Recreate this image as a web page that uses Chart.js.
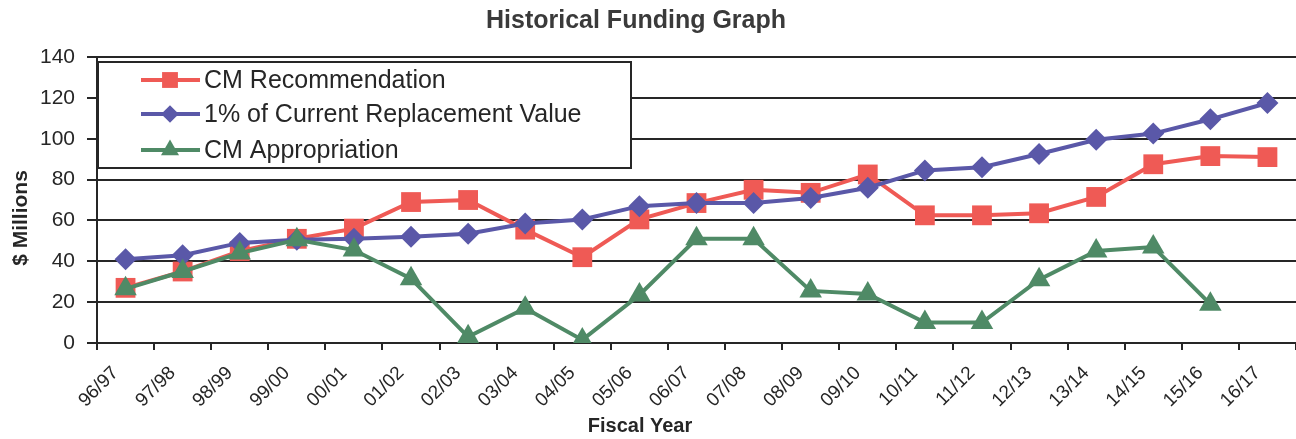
<!DOCTYPE html>
<html>
<head>
<meta charset="utf-8">
<script src="https://cdn.jsdelivr.net/npm/chart.js@4.4.1/dist/chart.umd.min.js"></script>
<style>
  html, body { margin: 0; padding: 0; background: #fff; }
  #wrap { width: 1296px; height: 439px; }
</style>
</head>
<body>
<div id="wrap"><canvas id="funding-chart"></canvas></div>
<script>
// --- data ($ millions) ---
const fiscalYears = ["96/97", "97/98", "98/99", "99/00", "00/01", "01/02", "02/03", "03/04", "04/05", "05/06",
  "06/07", "07/08", "08/09", "09/10", "10/11", "11/12", "12/13", "13/14", "14/15", "15/16", "16/17"];
const cmRecommendation = [27, 35, 45, 51, 56, 69, 70, 55.5, 42, 60.5, 68.5, 75, 73.5, 82.5, 62.5, 62.5, 63.5, 71.5, 87.5, 91.5, 91];
const replacementValue = [41, 43, 49, 50.5, 51, 52, 53.5, 58.5, 60.5, 67, 68.5, 68.5, 71, 76, 84.5, 86, 92.5, 99.5, 102.5, 109.5, 117.5];
const cmAppropriation = [26.5, 35, 44, 50.5, 45.5, 31.5, 3, 17, 1.5, 23.5, 51, 51, 25.5, 24, 10, 10, 31, 45, 47, 19, null];
const yTicks = [0, 20, 40, 60, 80, 100, 120, 140];

const RED = "#ef5a55";
const BLUE = "#5a58a8";
const GREEN = "#4f8a66";
const INK = "#262626";
const FONT = "'Liberation Sans', Arial, sans-serif";

Chart.defaults.font.family = FONT;
Chart.defaults.color = INK;

// title, axis titles and the legend box inside the plot, placed like the Excel original
const excelExtras = {
  id: "excelExtras",
  afterDraw(chart) {
    const { ctx, chartArea } = chart;
    ctx.save();

    ctx.textAlign = "center";
    ctx.textBaseline = "middle";
    ctx.fillStyle = "#3a3a3a";
    ctx.font = "bold 25px " + FONT;
    ctx.fillText("Historical Funding Graph", 636, 21);

    ctx.fillStyle = INK;
    ctx.font = "bold 20px " + FONT;
    ctx.fillText("Fiscal Year", 640, 426);
    ctx.save();
    ctx.translate(21, 218);
    ctx.rotate(-Math.PI / 2);
    ctx.font = "bold 21px " + FONT;
    ctx.fillText("$ Millions", 0, 0);
    ctx.restore();

    const left = chartArea.left + 1, top = chartArea.top + 5;
    const w = 533, h = 106;
    ctx.fillStyle = "#fff";
    ctx.fillRect(left, top, w, h);
    ctx.strokeStyle = INK;
    ctx.lineWidth = 2;
    ctx.strokeRect(left, top, w, h);

    const rows = [18, 52, 88];
    ctx.font = "25px " + FONT;
    ctx.textAlign = "left";
    chart.data.datasets.forEach((ds, i) => {
      const y = top + rows[i];
      ctx.strokeStyle = ds.borderColor;
      ctx.lineWidth = 4;
      ctx.beginPath();
      ctx.moveTo(left + 43, y);
      ctx.lineTo(left + 102, y);
      ctx.stroke();
      ctx.fillStyle = ds.borderColor;
      Chart.helpers.drawPoint(ctx, { pointStyle: ds.pointStyle, radius: ds.pointRadius * 0.8, rotation: 0, borderWidth: 0 }, left + 72, y);
      ctx.fillStyle = INK;
      ctx.fillText(ds.label, left + 106, y + 1);
    });
    ctx.restore();
  }
};

const ctx = document.getElementById("funding-chart").getContext("2d");

new Chart(ctx, {
  type: "line",
  data: {
    labels: fiscalYears,
    datasets: [
      {
        label: "CM Recommendation",
        data: cmRecommendation,
        borderColor: RED,
        backgroundColor: RED,
        pointStyle: "rect",
        pointRadius: 14,
        pointBorderWidth: 0,
        borderWidth: 4,
        order: 3
      },
      {
        label: "1% of Current Replacement Value",
        data: replacementValue,
        borderColor: BLUE,
        backgroundColor: BLUE,
        pointStyle: "rectRot",
        pointRadius: 11,
        pointBorderWidth: 0,
        borderWidth: 4,
        order: 2
      },
      {
        label: "CM Appropriation",
        data: cmAppropriation,
        borderColor: GREEN,
        backgroundColor: GREEN,
        pointStyle: "triangle",
        pointRadius: 13,
        pointBorderWidth: 0,
        borderWidth: 4,
        order: 1
      }
    ]
  },
  options: {
    responsive: true,
    maintainAspectRatio: false,
    animation: false,
    tension: 0,
    layout: { padding: { top: 57, left: 0, right: 0, bottom: 0 }, autoPadding: false },
    plugins: {
      legend: { display: false },
      tooltip: { enabled: false },
      title: { display: false }
    },
    scales: {
      x: {
        offset: true,
        grid: { offset: true, drawOnChartArea: false, tickLength: 7, color: INK, lineWidth: 2 },
        border: { color: INK, width: 2 },
        ticks: {
          autoSkip: false,
          minRotation: 45,
          maxRotation: 45,
          labelOffset: -10,
          padding: 12,
          color: INK,
          font: { size: 19 }
        },
        afterFit: s => { s.height = 96; }
      },
      y: {
        min: yTicks[0],
        max: yTicks[yTicks.length - 1],
        afterBuildTicks: s => { s.ticks = yTicks.map(v => ({ value: v })); },
        grid: { color: INK, lineWidth: 2, tickLength: 10 },
        border: { color: INK, width: 2 },
        ticks: { padding: 12, color: INK, font: { size: 21 } },
        afterFit: s => { s.width = 97; }
      }
    }
  },
  plugins: [excelExtras]
});
</script>
</body>
</html>
